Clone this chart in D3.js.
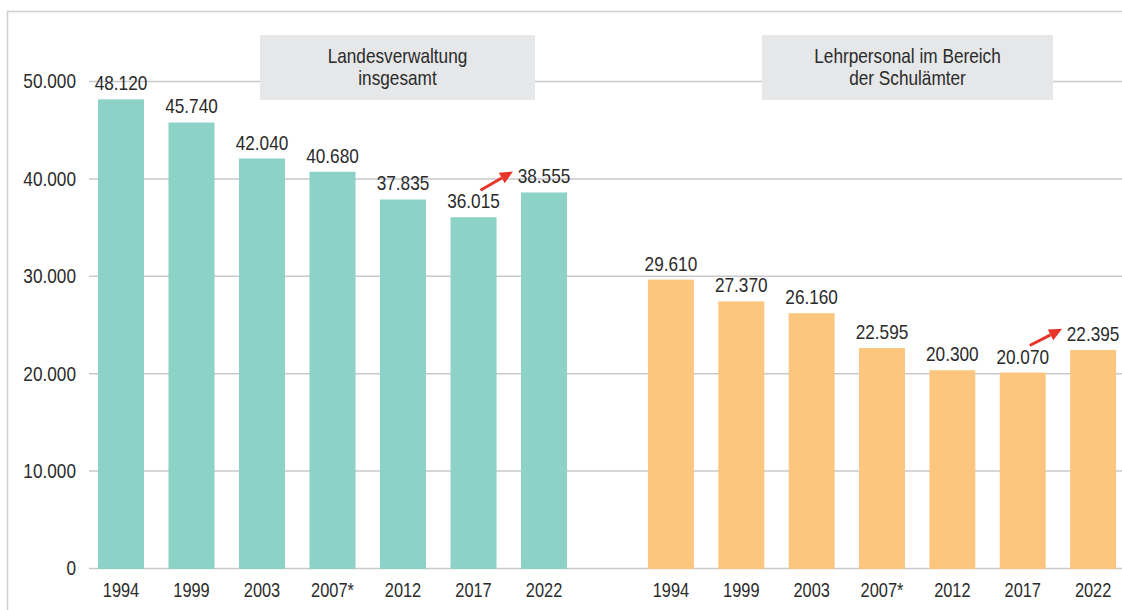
<html>
<head>
<meta charset="utf-8">
<title></title>
<style>
  body { margin: 0; background: #fff; }
  text { font-family: "Liberation Sans Narrow", "Liberation Sans", Arial, sans-serif; fill: #2b2b2b; }
</style>
</head>
<body>
<svg id="chart" width="1122" height="610"></svg>
<script src="https://cdn.jsdelivr.net/npm/d3@7"></script>
<script>
// Daten
var years = ["1994", "1999", "2003", "2007*", "2012", "2017", "2022"];
var landesverwaltung = [48120, 45740, 42040, 40680, 37835, 36015, 38555];
var lehrpersonal = [29610, 27370, 26160, 22595, 20300, 20070, 22395];
var yTicks = [0, 10000, 20000, 30000, 40000, 50000];
var titles = [["Landesverwaltung", "insgesamt"], ["Lehrpersonal im Bereich", "der Schulämter"]];

var de = d3.formatLocale({ decimal: ",", thousands: ".", grouping: [3], currency: ["", " €"] });
var fmt = de.format(",d");

// schmale Schrift (Arial Narrow-Optik) per horizontaler Stauchung
var narrow = 0.82;
function place(x, y){ return "translate(" + x + "," + y + ") scale(" + narrow + ",1)"; }

var svg = d3.select("#chart");

// Rahmen
svg.append("rect")
    .attr("x", 7.5).attr("y", 11.5)
    .attr("width", 1130).attr("height", 620)
    .attr("fill", "none").attr("stroke", "#cfcfcf").attr("stroke-width", 1.5);

var y = d3.scaleLinear().domain([0, 50000]).range([568, 81]);

// Gitterlinien
svg.selectAll("line.grid")
    .data(yTicks)
    .enter()
    .append("line")
    .attr("class", "grid")
    .attr("x1", 89).attr("x2", 1122)
    .attr("y1", function(d){ return y(d) + 0.5; })
    .attr("y2", function(d){ return y(d) + 0.5; })
    .attr("stroke", "#c9c9cc").attr("stroke-width", 1.5);

// y-Achse Beschriftung
svg.selectAll("text.ytick")
    .data(yTicks)
    .enter()
    .append("text")
    .attr("class", "ytick")
    .attr("transform", function(d){ return place(76, y(d)); })
    .attr("dy", "0.35em")
    .attr("text-anchor", "end")
    .style("font-size", "21px")
    .text(function(d){ return fmt(d); });

var groups = [
    { values: landesverwaltung, color: "#8dd2c6", range: [73.5, 591.5], title: titles[0], box: [260, 535] },
    { values: lehrpersonal, color: "#fdc67f", range: [623.5, 1140.5], title: titles[1], box: [762, 1053] }
];

groups.forEach(function(g){
    var x = d3.scaleBand().domain(years).range(g.range).paddingInner(0.347).paddingOuter(0.347);
    var data = years.map(function(yr, i){ return { year: yr, value: g.values[i] }; });

    // Titelbox
    svg.append("rect")
        .attr("x", g.box[0]).attr("y", 35)
        .attr("width", g.box[1] - g.box[0]).attr("height", 65)
        .attr("fill", "#e6e7e8");
    svg.append("text")
        .attr("transform", place((g.box[0] + g.box[1]) / 2, 63))
        .attr("text-anchor", "middle")
        .style("font-size", "21px")
        .selectAll("tspan")
        .data(g.title)
        .enter()
        .append("tspan")
        .attr("x", 0)
        .attr("dy", function(d, i){ return i ? 22 : 0; })
        .text(function(d){ return d; });

    var bars = svg.append("g");
    bars.selectAll("rect")
        .data(data)
        .enter()
        .append("rect")
        .attr("x", function(d){ return x(d.year); })
        .attr("width", x.bandwidth())
        .attr("y", function(d){ return y(d.value); })
        .attr("height", function(d){ return y(0) - y(d.value) + 1; })
        .attr("fill", g.color);

    bars.selectAll("text.val")
        .data(data)
        .enter()
        .append("text")
        .attr("class", "val")
        .attr("transform", function(d){ return place(x(d.year) + x.bandwidth() / 2, y(d.value) - 9); })
        .attr("text-anchor", "middle")
        .style("font-size", "21px")
        .text(function(d){ return fmt(d.value); });

    bars.selectAll("text.year")
        .data(data)
        .enter()
        .append("text")
        .attr("class", "year")
        .attr("transform", function(d){ return place(x(d.year) + x.bandwidth() / 2, 597); })
        .attr("text-anchor", "middle")
        .style("font-size", "20px")
        .text(function(d){ return d.year; });

    // roter Pfeil 2017 -> 2022
    var a = data[5], b = data[6];
    var x1 = x(a.year) + x.bandwidth() / 2 + 7, y1 = y(a.value) - 27;
    var x2 = x(b.year) + x.bandwidth() / 2 - 31, y2 = y(b.value) - 21;
    var ang = Math.atan2(y2 - y1, x2 - x1);
    var hl = 13, hw = 6;
    var bx = x2 - hl * Math.cos(ang), by = y2 - hl * Math.sin(ang);
    svg.append("line")
        .attr("x1", x1).attr("y1", y1).attr("x2", bx).attr("y2", by)
        .attr("stroke", "#e8352b").attr("stroke-width", 3);
    svg.append("path")
        .attr("d", "M" + x2 + "," + y2 +
            "L" + (bx + hw * Math.sin(ang)) + "," + (by - hw * Math.cos(ang)) +
            "L" + (bx - hw * Math.sin(ang)) + "," + (by + hw * Math.cos(ang)) + "Z")
        .attr("fill", "#e8352b");
});
</script>
</body>
</html>
